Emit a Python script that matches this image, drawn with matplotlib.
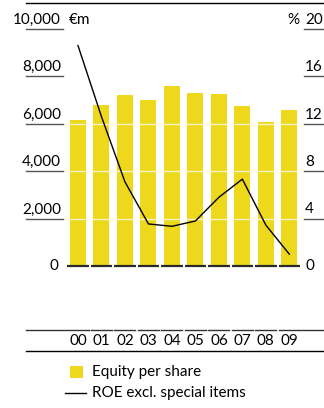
import matplotlib
matplotlib.use("Agg")
import matplotlib.pyplot as plt
from matplotlib.transforms import blended_transform_factory
from matplotlib.patches import Rectangle
from matplotlib.lines import Line2D

plt.rcParams['font.family'] = ['Lato', 'DejaVu Sans']

years = ["00", "01", "02", "03", "04", "05", "06", "07", "08", "09"]
equity = [6160, 6790, 7220, 7000, 7600, 7300, 7260, 6750, 6080, 6580]
roe = [18.6, 12.6, 7.1, 3.55, 3.35, 3.8, 5.8, 7.33, 3.45, 1.0]
left_ticks = [0, 2000, 4000, 6000, 8000, 10000]
left_labels = ["0", "2,000", "4,000", "6,000", "8,000", "10,000"]
right_labels = ["0", "4", "8", "12", "16", "20"]

W, H = 324, 408
YELLOW = "#EDD81C"
FS = 11

fig = plt.figure(figsize=(W / 100, H / 100), dpi=100)

step = 23.48
x0 = 78 - step / 2
ax = fig.add_axes([x0 / W, (H - 266) / H, step * 10 / W, (266 - 29) / H])
ax.set_xlim(-0.5, 9.5)
ax.set_ylim(0, 10000)
ax.axis("off")

xs = list(range(len(years)))
ax.bar(xs, equity, width=0.68, color=YELLOW, zorder=1)
for t in left_ticks[1:5]:
    ax.axhline(t, color="white", lw=1.0, alpha=0.75, zorder=2)

ax2 = ax.twinx()
ax2.set_ylim(0, 20)
ax2.axis("off")
ax2.plot(xs, roe, color="black", lw=1.0, zorder=5)

# baseline segments under each category
for i in xs:
    ax.plot([i - 0.46, i + 0.46], [0, 0], color="#2a2a2a", lw=1.6,
            solid_capstyle="butt", zorder=3, clip_on=False)

# axis labels with short underlines
tr = blended_transform_factory(fig.transFigure, ax.transData)
for t, lab, rlab in zip(left_ticks, left_labels, right_labels):
    if t == 0:
        fig.text(58 / W, (H - 266) / H, lab, ha="right", va="center", fontsize=FS)
        fig.text(305 / W, (H - 266) / H, rlab, ha="left", va="center", fontsize=FS)
        continue
    ax.add_line(Line2D([26 / W, 63 / W], [t, t], transform=tr, color="#555555",
                       lw=1.0, clip_on=False))
    ax.add_line(Line2D([304 / W, 1.0], [t, t], transform=tr, color="#555555",
                       lw=1.0, clip_on=False))
    ax.text(61 / W, t + 90, lab, transform=tr, ha="right", va="bottom", fontsize=FS)
    ax.text(305 / W, t + 90, rlab, transform=tr, ha="left", va="bottom", fontsize=FS)

ax.text(69 / W, 10000 + 90, "€m", transform=tr, ha="left", va="bottom", fontsize=FS)
ax.text(300 / W, 10000 + 90, "%", transform=tr, ha="right", va="bottom", fontsize=FS)

# top rule
fig.add_artist(Line2D([26 / W, 1.0], [(H - 3.3) / H] * 2, color="black", lw=1.0))

# year labels block
yseg = (H - 330) / H
for i in xs:
    cx = 78 + step * i
    left = 26 if i == 0 else cx - 10.5
    right = W if i == len(years) - 1 else cx + 10.5
    fig.add_artist(Line2D([left / W, right / W], [yseg, yseg], color="#333333", lw=1.0))
    fig.text(cx / W, (H - 341) / H, years[i], ha="center", va="center", fontsize=FS)
fig.add_artist(Line2D([26 / W, 1.0], [(H - 351) / H] * 2, color="black", lw=1.0))

# legend
fig.add_artist(Rectangle((70 / W, (H - 378) / H), 13 / W, 12 / H,
                         transform=fig.transFigure, color=YELLOW, lw=0))
fig.text(92 / W, (H - 372) / H, "Equity per share", ha="left", va="center", fontsize=FS)
fig.add_artist(Line2D([65 / W, 86 / W], [(H - 393) / H] * 2, color="black", lw=1.0))
fig.text(92 / W, (H - 393) / H, "ROE excl. special items", ha="left", va="center", fontsize=FS)

fig.savefig("out.png", dpi=100)
